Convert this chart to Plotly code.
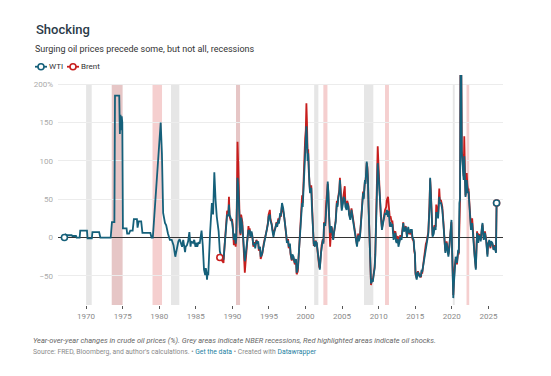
import plotly.graph_objects as go

# ---------------- data (year-over-year % change) ----------------
dates = [
    "1967-01","1967-03","1967-06","1968-01","1968-02","1968-08","1968-09","1969-02","1969-03","1970-02",
    "1970-03","1970-10","1970-11","1971-10","1971-12","1973-05","1973-07","1973-11","1973-12","1974-07",
    "1974-08","1974-09","1974-10","1974-11","1974-12","1975-01","1975-07","1975-08","1975-11","1976-01",
    "1976-05","1976-07","1976-12","1977-01","1977-03","1977-07","1977-09","1978-10","1978-12","1979-02",
    "1979-03","1979-06","1979-09","1979-12","1980-02","1980-03","1980-05","1980-07","1980-10","1980-12",
    "1981-03","1981-06","1981-09","1981-12","1982-03","1982-05","1982-07","1982-08","1982-10","1982-11",
    "1983-01","1983-02","1983-04","1983-05","1983-07","1983-08","1983-10","1983-12",
    "1984-02","1984-04","1984-05","1984-08","1984-10","1984-12",
    "1985-02","1985-03","1985-05","1985-07","1985-08","1985-10","1985-12",
    "1986-02","1986-04","1986-05","1986-06","1986-07","1986-08","1986-09","1986-12",
    "1987-03","1987-05","1987-07","1987-09","1987-11","1988-02",
    # Brent available from here
    "1988-04","1988-06","1988-08","1988-10","1988-12",
    "1989-02","1989-04","1989-06","1989-07","1989-08","1989-10","1989-12",
    "1990-01","1990-03","1990-04","1990-06","1990-07","1990-08","1990-09","1990-10","1990-11","1990-12",
    "1991-01","1991-02","1991-03","1991-05","1991-07","1991-08","1991-09","1991-10","1991-11",
    "1992-01","1992-03","1992-04","1992-05","1992-06","1992-08","1992-09","1992-11",
    "1993-01","1993-02","1993-04","1993-05","1993-07","1993-08","1993-10","1993-11",
    "1994-01","1994-02","1994-04","1994-06","1994-08","1994-09","1994-11","1994-12",
    "1995-02","1995-03","1995-05","1995-06","1995-08","1995-09","1995-11",
    "1996-01","1996-02","1996-04","1996-05","1996-07","1996-08","1996-10","1996-12",
    "1997-01","1997-02","1997-03","1997-05","1997-06","1997-08","1997-09","1997-11","1997-12",
    "1998-02","1998-03","1998-05","1998-06","1998-07","1998-09","1998-10","1998-12",
    "1999-01","1999-03","1999-05","1999-07","1999-08","1999-09","1999-10","1999-11","1999-12",
    "2000-01","2000-02","2000-03","2000-04","2000-05","2000-06","2000-07","2000-08","2000-10","2000-11","2000-12",
    "2001-01","2001-02","2001-04","2001-05","2001-07","2001-08","2001-10","2001-11","2001-12",
    "2002-02","2002-03","2002-05","2002-06","2002-07","2002-09","2002-10","2002-12",
    "2003-01","2003-02","2003-03","2003-04","2003-05","2003-07","2003-08","2003-10","2003-11",
    "2004-01","2004-02","2004-04","2004-05","2004-06","2004-08","2004-09","2004-11","2004-12",
    "2005-02","2005-03","2005-05","2005-06","2005-08","2005-09","2005-11","2005-12",
    "2006-02","2006-03","2006-04","2006-06","2006-07","2006-09","2006-10","2006-12",
    "2007-01","2007-03","2007-04","2007-06","2007-07","2007-08","2007-10","2007-11","2007-12",
    "2008-01","2008-02","2008-03","2008-05","2008-06","2008-07","2008-08","2008-09","2008-10","2008-11","2008-12",
    "2009-02","2009-03","2009-04","2009-06","2009-07","2009-08","2009-10","2009-11","2009-12",
    "2010-01","2010-03","2010-04","2010-06","2010-07","2010-08","2010-10","2010-11",
    "2011-01","2011-02","2011-04","2011-05","2011-07","2011-08","2011-10","2011-11",
    "2012-01","2012-02","2012-04","2012-05","2012-06","2012-08","2012-09","2012-11","2012-12",
    "2013-02","2013-03","2013-05","2013-06","2013-08","2013-09","2013-11","2013-12",
    "2014-01","2014-02","2014-04","2014-05","2014-07","2014-08","2014-10","2014-11","2014-12",
    "2015-01","2015-03","2015-04","2015-05","2015-07","2015-08","2015-10","2015-11","2015-12",
    "2016-02","2016-03","2016-04","2016-06","2016-07","2016-09","2016-10","2016-12",
    "2017-01","2017-02","2017-04","2017-05","2017-07","2017-08","2017-10","2017-11",
    "2018-01","2018-02","2018-04","2018-05","2018-07","2018-08","2018-09","2018-11","2018-12",
    "2019-01","2019-02","2019-04","2019-05","2019-07","2019-08","2019-10","2019-12",
    "2020-01","2020-02","2020-03","2020-04","2020-05","2020-07","2020-08","2020-09","2020-11","2020-12",
    "2021-01","2021-02","2021-03","2021-04","2021-05","2021-06","2021-08","2021-09","2021-10","2021-11","2021-12",
    "2022-01","2022-02","2022-03","2022-04","2022-06","2022-07","2022-08","2022-10","2022-11","2022-12",
    "2023-01","2023-02","2023-04","2023-05","2023-06","2023-08","2023-09","2023-11","2023-12",
    "2024-02","2024-03","2024-05","2024-06","2024-07","2024-09","2024-10","2024-11","2024-12",
    "2025-02","2025-03","2025-04","2025-05","2025-07","2025-08","2025-09","2025-11","2025-12",
    "2026-01","2026-02",
]

wti = [
    0, 4, 3, 3, 2, 2, 0, 0, 9, 9,
    -1, -1, 7, 7, 0, 0, 20, 20, 185, 185,
    135, 160, 140, 158, 150, 12, 12, 5, 5, 9,
    9, 24, 24, 13, 21, 21, 6, 6, 0, 0,
    10, 45, 88, 118, 140, 150, 110, 32, 19, 16,
    5, -3, -3, -10, -25, -16, -8, -5, -2, -5,
    -8, -12, -3, -10, -19, -12, -10, -5,
    7, -12, -5, -7, -3, -12,
    -7, -12, -6, -8, -3, 9, -10,
    -42, -49, -40, -44, -55, -45, -49, 6,
    45, 30, 85, 49, 27, 8,
    # 1988 onwards
    -18, -24, -25, -29, -5,
    20, 30, 28, 43, 30, 25, 20,
    14, -3, 5, -8, 0, 40, 78, 70, 45, 19,
    10, 5, 26, 15, -5, -20, -31, -25, -16,
    0, 10, 5, 10, 1, 8, 3, -10,
    -8, -14, -4, -8, -5, -15, -12, -25,
    -22, -18, -10, -3, 5, 8, 18, 27,
    30, 22, 17, 10, 1, 6, 14,
    19, 14, 23, 18, 32, 28, 45, 38,
    32, 22, 14, 4, -7, -4, -12, -8, -20,
    -29, -22, -25, -30, -33, -28, -46, -40,
    -25, 0, 20, 45, 40, 60, 70, 100, 110,
    120, 145, 130, 100, 110, 80, 70, 58, 65, 40, 20,
    -3, -8, -12, -5, -7, -15, -25, -35, -42,
    -20, -12, -3, -8, 19, 15, 36, 55,
    73, 60, 32, 12, 6, 15, 10, -3, 5,
    14, 20, 45, 40, 49, 60, 75, 55, 35,
    45, 53, 50, 40, 36, 45, 40, 30,
    23, 30, 36, 25, 19, 10, 1, -5,
    -12, 3, -5, 1, 10, 20, 45, 58, 50,
    62, 75, 70, 99, 90, 75, 40, 6, -30, -51, -60,
    -55, -58, -51, -40, -25, 10, 71, 97, 85,
    71, 36, 25, 10, 15, 19, 25, 32,
    30, 36, 27, 35, 14, 20, 14, 18,
    -3, 2, 6, -5, -7, -2, -12, -5, 1,
    -3, 5, 19, 8, 10, 14, 1, 6,
    14, 8, 6, 10, 10, 0, -3, -15, -20,
    -46, -55, -48, -45, -50, -51, -50, -42, -45,
    -35, -28, -20, -10, -8, 0, 5, 40,
    78, 60, 27, 1, 5, 14, 10, 32,
    32, 25, 53, 45, 45, 40, 36, 15, -3,
    -10, -20, -7, -12, -25, -18, 1, 23,
    -16, -51, -79, -60, -42, -25, -28, -33, -16, -20,
    45, 50, 260, 240, 110, 95, 75, 106, 85, 53, 60,
    75, 65, 58, 60, 36, 25, 10, 19, 5, -7,
    -15, -25, -42, -20, 6, -7, 2, 1, -5,
    14, 19, -3, 2, 6, -5, -12, -25, -10,
    -3, -8, -12, -5, -7, -10, -16, -12, -18,
    -20, 45,
]

brent_values = [
    -26, -28, -30, -33, -8,
    22, 35, 32, 53, 28, 22, 24,
    18, -10, 2, -12, -2, 50, 125, 100, 55, 25,
    8, 3, 30, 20, -8, -22, -46, -35, -20,
    -5, 15, 8, 12, 2, 6, 4, -12,
    -6, -10, -3, -5, -8, -17, -14, -28,
    -24, -20, -8, -2, 6, 10, 20, 30,
    36, 25, 18, 12, 3, 8, 12,
    20, 16, 25, 20, 30, 27, 42, 36,
    30, 24, 16, 6, -5, -2, -14, -10, -22,
    -30, -25, -27, -32, -35, -30, -48, -44,
    -28, 2, 25, 55, 45, 75, 85, 120, 130,
    140, 175, 150, 110, 115, 85, 72, 60, 68, 45, 22,
    -5, -10, -10, -4, -8, -17, -28, -38, -40,
    -18, -10, -2, -6, 20, 18, 40, 58,
    70, 58, 30, 5, -12, 14, 12, -2, 6,
    16, 22, 48, 42, 52, 62, 78, 58, 38,
    50, 58, 67, 45, 40, 48, 42, 32,
    25, 32, 38, 28, 22, 12, 3, -3,
    -10, 5, -3, 3, 12, 22, 48, 60, 52,
    65, 74, 72, 97, 92, 78, 42, 10, -32, -55, -62,
    -53, -56, -50, -38, -22, 15, 80, 119, 100,
    75, 38, 28, 12, 17, 20, 28, 36,
    40, 49, 53, 45, 25, 28, 20, 22,
    5, 6, 8, -3, -5, 2, -8, -3, 3,
    0, 7, 20, 10, 12, 15, 2, 5,
    12, 6, 5, 8, 8, -2, -5, -18, -22,
    -48, -53, -46, -44, -48, -50, -52, -44, -47,
    -33, -26, -18, -8, -6, 2, 7, 45,
    76, 62, 30, 3, 8, 16, 14, 43,
    35, 28, 64, 50, 48, 42, 40, 18, -2,
    -8, -18, -5, -10, -22, -16, 2, 20,
    -14, -48, -75, -58, -40, -28, -30, -35, -18, -22,
    40, 48, 255, 230, 115, 100, 80, 132, 90, 55, 62,
    84, 70, 62, 64, 40, 28, 12, 25, 8, -5,
    -13, -23, -40, -18, 8, -5, 4, 3, -3,
    12, 17, -2, 4, 8, -3, -10, -22, -8,
    -5, -9, -14, -6, -8, -11, -15, -10, -17,
    -19, 45,
]
BRENT_START = "1988-04"

grey_bands = [("1970-01-01", "1970-10-10"), ("1981-08-10", "1982-10-01"),
              ("2001-03-10", "2001-10-05"), ("2008-01-01", "2009-04-10"),
              ("2020-02-20", "2020-05-25")]
red_bands = [("1979-02-01", "1980-05-20"), ("2002-06-10", "2002-12-31"),
             ("2010-11-15", "2011-05-30"), ("2022-01-05", "2022-05-20")]
mixed_bands = [("1973-07-05", "1974-12-31"), ("1990-07-01", "1991-01-20")]

y_ticks = [-50, 0, 50, 100, 150, 200]
y_ticktext = ["\u221250", "0", "50", "100", "150", "200%"]

# ---------------- figure ----------------
assert len(dates) == len(wti), (len(dates), len(wti))
b0 = dates.index(BRENT_START)
assert len(dates) - b0 == len(brent_values), (len(dates) - b0, len(brent_values))

WTI_C = "#15607a"
BRENT_C = "#c71e1d"
FONT = "Roboto"

x = [d + "-15" for d in dates]
bx = x[b0:]
by = brent_values

fig = go.Figure()
fig.add_trace(go.Scatter(x=bx, y=by, mode="lines", line=dict(color=BRENT_C, width=1.8),
                         name="Brent", showlegend=False, hoverinfo="skip"))
fig.add_trace(go.Scatter(x=x, y=wti, mode="lines", line=dict(color=WTI_C, width=1.8),
                         name="WTI", showlegend=False, hoverinfo="skip"))
# first / last point symbols
fig.add_trace(go.Scatter(x=[bx[0], bx[-1]], y=[by[0], by[-1]], mode="markers",
                         marker=dict(symbol="circle", size=6, color="white",
                                     line=dict(color=BRENT_C, width=1.6)),
                         showlegend=False, hoverinfo="skip", cliponaxis=False))
fig.add_trace(go.Scatter(x=[x[0], x[-1]], y=[wti[0], wti[-1]], mode="markers",
                         marker=dict(symbol="circle", size=6, color="white",
                                     line=dict(color=WTI_C, width=1.6)),
                         showlegend=False, hoverinfo="skip", cliponaxis=False))

shapes = []
Y0, Y1 = -88, 200
for a, b in grey_bands:
    shapes.append(dict(type="rect", xref="x", yref="y", x0=a, x1=b, y0=Y0, y1=Y1,
                       fillcolor="#e6e6e6", line=dict(width=0), layer="below"))
for a, b in red_bands:
    shapes.append(dict(type="rect", xref="x", yref="y", x0=a, x1=b, y0=Y0, y1=Y1,
                       fillcolor="#f5cfcf", line=dict(width=0), layer="below"))
for a, b in mixed_bands:
    shapes.append(dict(type="rect", xref="x", yref="y", x0=a, x1=b, y0=Y0, y1=Y1,
                       fillcolor="#e6c6c6", line=dict(width=0), layer="below"))

# custom legend symbols (pixel sized, anchored to paper)
LEG_Y = 1.036
for off, col in [(-23, WTI_C), (9, BRENT_C)]:
    shapes.append(dict(type="line", xref="paper", yref="paper", xsizemode="pixel", ysizemode="pixel",
                       xanchor=0, yanchor=LEG_Y, x0=off, x1=off + 12, y0=0, y1=0,
                       line=dict(color=col, width=1.8)))
    shapes.append(dict(type="circle", xref="paper", yref="paper", xsizemode="pixel", ysizemode="pixel",
                       xanchor=0, yanchor=LEG_Y, x0=off + 3, x1=off + 9, y0=-3, y1=3,
                       fillcolor="white", line=dict(color=col, width=1.6)))

annotations = [
    dict(text="Shocking", xref="paper", yref="paper", x=-0.0546, y=1.197, xanchor="left", yanchor="middle",
         showarrow=False, font=dict(family=FONT, size=13, color="#2b3a48", weight=500)),
    dict(text="Surging oil prices precede some, but not all, recessions", xref="paper", yref="paper",
         x=-0.0562, y=1.112, xanchor="left", yanchor="middle", showarrow=False,
         font=dict(family=FONT, size=9, color="#333333")),
    dict(text="WTI", xref="paper", yref="paper", x=-0.024, y=LEG_Y, xanchor="left", yanchor="middle",
         showarrow=False, font=dict(family=FONT, size=8, color="#333333")),
    dict(text="Brent", xref="paper", yref="paper", x=0.047, y=LEG_Y, xanchor="left", yanchor="middle",
         showarrow=False, font=dict(family=FONT, size=8, color="#333333")),
    dict(text="<i>Year-over-year changes in crude oil prices (%). Grey areas indicate NBER recessions, "
              "Red highlighted areas indicate oil shocks.</i>",
         xref="paper", yref="paper", x=-0.06, y=-0.156, xanchor="left", yanchor="middle",
         showarrow=False, font=dict(family=FONT, size=7.45, color="#666666")),
    dict(text="Source: FRED, Bloomberg, and author's calculations. \u2022 "
              "<span style='color:#1d81a2'>Get the data</span> \u2022 Created with "
              "<span style='color:#1d81a2'>Datawrapper</span>",
         xref="paper", yref="paper", x=-0.06, y=-0.2054, xanchor="left", yanchor="middle",
         showarrow=False, font=dict(family=FONT, size=6.8, color="#8a8a8a")),
]

fig.update_layout(
    width=551, height=376,
    margin=dict(l=58, r=48, t=75, b=71),
    paper_bgcolor="white", plot_bgcolor="white",
    showlegend=False,
    shapes=shapes, annotations=annotations,
    font=dict(family=FONT),
    xaxis=dict(type="date", range=["1966-03-01", "2027-01-01"], tick0="1970-01-01", dtick="M60",
               tickformat="%Y", showgrid=False, zeroline=False, showline=False,
               ticks="outside", ticklen=3, tickcolor="#555555", tickwidth=1,
               tickfont=dict(family=FONT, size=8, color="#8a8a8a")),
    yaxis=dict(range=[-88, 212], tickvals=y_ticks, ticktext=y_ticktext,
               showgrid=True, gridcolor="#ececec", gridwidth=1,
               zeroline=True, zerolinecolor="#333333", zerolinewidth=1,
               showline=False, ticks="", ticklabelstandoff=4,
               tickfont=dict(family=FONT, size=8, color="#aaaaaa")),
)

fig.write_html("out.html", config={"displayModeBar": False, "staticPlot": True},
               post_script="document.body.style.margin='0';document.body.style.padding='0';"
                           "document.body.style.overflow='hidden';")
